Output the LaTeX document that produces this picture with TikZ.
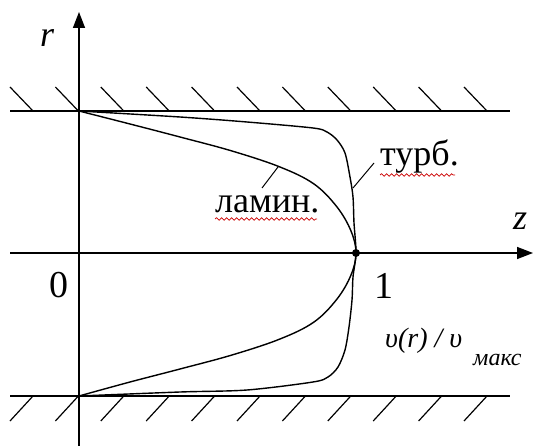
\documentclass[tikz,border=0pt]{standalone}
\usepackage{fontspec}
\newfontfamily\tnr{LiberationSerif}[Extension=.ttf,UprightFont=*-Regular,ItalicFont=*-Italic,BoldFont=*-Bold]
\usetikzlibrary{arrows.meta,decorations.pathmorphing}
\begin{document}
\begin{tikzpicture}[x=1pt,y=-1pt,
  axis/.style={line width=1.5pt,-{Triangle[length=16pt,width=12pt]}},
  wall/.style={line width=1.4pt},
  hatch/.style={line width=1.2pt},
  curve/.style={line width=1.4pt},
  leader/.style={line width=1pt},
  lbl/.style={inner sep=0pt,anchor=base west,font=\tnr\fontsize{36}{40}\selectfont},
  ilbl/.style={inner sep=0pt,anchor=base west,font=\tnr\fontsize{36}{40}\selectfont\itshape},
  squig/.style={red!80!black,line width=0.7pt,decorate,decoration={snake,amplitude=1.3pt,segment length=5pt}}]
\useasboundingbox (0,0) rectangle (535,446);
\fill[white] (0,0) rectangle (535,446);
% walls
\coordinate (wtl) at (10,111);
\coordinate (wtr) at (510,111);
\coordinate (wbl) at (10,396);
\coordinate (wbr) at (510,396);
\draw[wall] (wtl) -- (wtr);
\draw[wall] (wbl) -- (wbr);
\foreach \k in {0,...,10} {
  \draw[hatch] ({10+45.4*\k},87) -- ({33+45.4*\k},111);
  \draw[hatch] ({10+45.4*\k},421) -- ({33+45.4*\k},396);
}
% axes
\coordinate (rbot) at (79,446);
\coordinate (rtop) at (79,12);
\coordinate (zleft) at (10,253);
\coordinate (zright) at (533,253);
\draw[axis] (rbot) -- (rtop);
\draw[axis] (zleft) -- (zright);
% laminar profile
\draw[curve] plot[smooth,tension=0.6] coordinates {(79,111) (130,124) (180,137) (232,151) (280,167) (314,184) (337,207) (351,231) (356,253) (351,275) (337,299) (314,322) (280,339) (232,355) (180,369) (130,382) (79,396)};
% turbulent profile
\draw[curve] plot[smooth,tension=0.5] coordinates {(79,111) (180,117) (247,122) (313,128) (327,132) (337,140) (345,153) (350,177) (353,197) (354,223) (356,253) (353,277) (352,300) (349,327) (345,350) (338,367) (328,377) (313,382) (247,390) (180,392) (79,396)};
\node[circle,fill,inner sep=0pt,minimum size=8pt] (peak) at (356,253) {};
% labels
\node[ilbl] (rlab) at (40,47) {r};
\node[ilbl] (zlab) at (513,230) {z};
\node[lbl,font=\tnr\fontsize{38}{40}\selectfont] (zero) at (49,297) {0};
\node[lbl,font=\tnr\fontsize{38}{40}\selectfont] (one) at (374,298) {1};
\node[lbl] (lam) at (215,213) {ламин.};
\node[lbl] (turb) at (380,166) {турб.};
\coordinate (lamA) at (262,188);
\coordinate (lamB) at (278,167);
\coordinate (turA) at (353,188);
\coordinate (turB) at (374,163);
\draw[leader] (lamA) -- (lamB);
\draw[leader] (turA) -- (turB);
\coordinate (sqA) at (215,219);
\coordinate (sqB) at (317,219);
\coordinate (sqC) at (380,175);
\coordinate (sqD) at (455,175);
\draw[squig] (sqA) -- (sqB);
\draw[squig] (sqC) -- (sqD);
\node[inner sep=0pt,anchor=base west,font=\tnr\fontsize{28}{30}\selectfont\itshape] (vel) at (385,347) {υ(r) / υ};
\node[inner sep=0pt,anchor=base west,font=\tnr\fontsize{24}{26}\selectfont\itshape] (maks) at (473,365) {макс};
\end{tikzpicture}
\end{document}
